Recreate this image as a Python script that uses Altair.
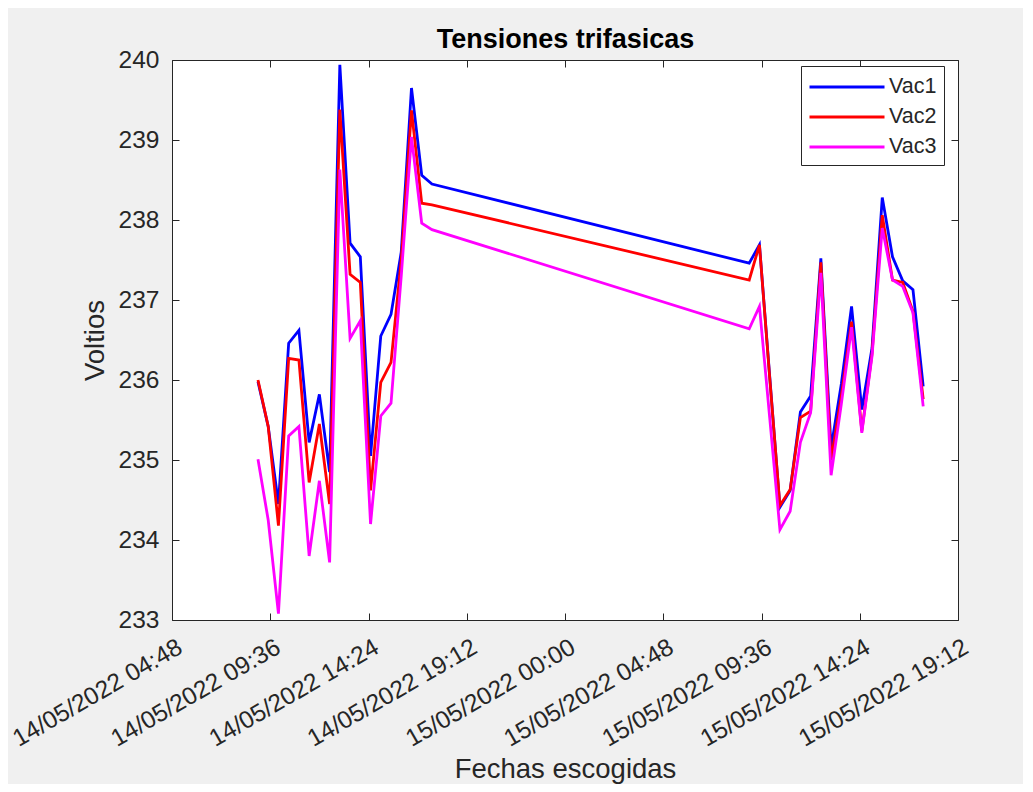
import altair as alt
import pandas as pd

FONT = "Liberation Sans"
TXT = "#262626"

# Timestamps (14/05/2022 and 15/05/2022, every 30 min from 09:00 to 17:30)
times_day1 = [
    "2022-05-14T09:00:00", "2022-05-14T09:30:00", "2022-05-14T10:00:00", "2022-05-14T10:30:00",
    "2022-05-14T11:00:00", "2022-05-14T11:30:00", "2022-05-14T12:00:00", "2022-05-14T12:30:00",
    "2022-05-14T13:00:00", "2022-05-14T13:30:00", "2022-05-14T14:00:00", "2022-05-14T14:30:00",
    "2022-05-14T15:00:00", "2022-05-14T15:30:00", "2022-05-14T16:00:00", "2022-05-14T16:30:00",
    "2022-05-14T17:00:00", "2022-05-14T17:30:00",
]
times_day2 = [
    "2022-05-15T09:00:00", "2022-05-15T09:30:00", "2022-05-15T10:00:00", "2022-05-15T10:30:00",
    "2022-05-15T11:00:00", "2022-05-15T11:30:00", "2022-05-15T12:00:00", "2022-05-15T12:30:00",
    "2022-05-15T13:00:00", "2022-05-15T13:30:00", "2022-05-15T14:00:00", "2022-05-15T14:30:00",
    "2022-05-15T15:00:00", "2022-05-15T15:30:00", "2022-05-15T16:00:00", "2022-05-15T16:30:00",
    "2022-05-15T17:00:00", "2022-05-15T17:30:00",
]

vac1 = [
    235.98, 235.42, 234.45, 236.46, 236.62, 235.22, 235.82, 234.85, 239.94,
    237.71, 237.54, 235.05, 236.55, 236.82, 237.60, 239.65, 238.56, 238.45,
    237.46, 237.69, 236.05, 234.41, 234.62, 235.60, 235.80, 237.52, 235.15,
    235.95, 236.92, 235.63, 236.40, 238.28, 237.54, 237.24, 237.13, 235.92,
]
vac2 = [
    236.00, 235.42, 234.18, 236.27, 236.25, 234.72, 235.45, 234.45, 239.38,
    237.32, 237.22, 234.62, 235.97, 236.22, 237.50, 239.37, 238.21, 238.19,
    237.25, 237.69, 236.03, 234.43, 234.63, 235.53, 235.61, 237.47, 235.00,
    235.80, 236.73, 235.36, 236.33, 238.06, 237.25, 237.22, 236.86, 235.76,
]
vac3 = [
    235.01, 234.25, 233.08, 235.30, 235.42, 233.80, 234.74, 233.72, 238.63,
    236.52, 236.74, 234.20, 235.55, 235.71, 237.30, 239.04, 237.96, 237.88,
    236.64, 236.92, 235.53, 234.13, 234.36, 235.22, 235.59, 237.34, 234.81,
    235.70, 236.66, 235.34, 236.30, 237.90, 237.25, 237.17, 236.84, 235.67,
]

series = ["Vac1", "Vac2", "Vac3"]
colors = ["#0000ff", "#ff0000", "#ff00ff"]
y_ticks = [233, 234, 235, 236, 237, 238, 239, 240]
x_tick_hm = [(14, 4, 48), (14, 9, 36), (14, 14, 24), (14, 19, 12), (15, 0, 0),
             (15, 4, 48), (15, 9, 36), (15, 14, 24), (15, 19, 12)]

times = times_day1 + times_day2
df = pd.DataFrame({
    "t": times * 3,
    "v": vac1 + vac2 + vac3,
    "serie": [series[0]] * len(times) + [series[1]] * len(times) + [series[2]] * len(times),
})

x_vals = [alt.DateTime(year=2022, month=5, date=d, hours=h, minutes=m) for d, h, m in x_tick_hm]
x_scale = alt.Scale(domain=[x_vals[0], x_vals[-1]], nice=False)
y_scale = alt.Scale(domain=[233, 240], nice=False, zero=False)

W, H = 786, 560

x_axis = alt.Axis(
    values=x_vals, format="%d/%m/%Y %H:%M", formatType="time",
    labelAngle=-30, labelAlign="right", labelBaseline="top",
    labelFont=FONT, labelFontSize=24.5, labelColor=TXT, labelLimit=0,
    labelOverlap=False, labelFlush=False, labelBound=False, labelOffset=2,
    tickSize=7, tickColor=TXT, offset=-7, domain=False, grid=False, labelPadding=15,
    title="Fechas escogidas", titleFont=FONT, titleFontSize=27.5, titleFontWeight="normal",
    titleColor=TXT, titleX=W / 2, titleY=164, titleAlign="center", titleBaseline="alphabetic",
)
y_axis = alt.Axis(
    values=y_ticks, format="d",
    labelFont=FONT, labelFontSize=24.5, labelColor=TXT,
    labelOverlap=False, labelFlush=False, labelBound=False,
    tickSize=7, tickColor=TXT, offset=-7, domain=False, grid=False, labelPadding=13,
    title="Voltios", titleFont=FONT, titleFontSize=27.5, titleFontWeight="normal",
    titleColor=TXT, titleX=-76, titleY=H / 2, titleAlign="center", titleBaseline="alphabetic",
    titleAngle=270,
)

lines = alt.Chart(df).mark_line(strokeWidth=2.8).encode(
    x=alt.X("t:T", scale=x_scale, axis=x_axis),
    y=alt.Y("v:Q", scale=y_scale, axis=y_axis),
    color=alt.Color(
        "serie:N",
        scale=alt.Scale(domain=series, range=colors),
        legend=alt.Legend(
            title=None, orient="none", legendX=629, legendY=6,
            symbolType="M-1,0H5", symbolSize=625, symbolStrokeWidth=2.8,
            labelFont=FONT, labelFontSize=21.5, labelColor=TXT, labelOffset=53,
            padding=7, rowPadding=5, fillColor="white", strokeColor=TXT,
        ),
    ),
)

# Box ticks on the top and right sides; the top axis also carries the chart title
frame = alt.Chart(df).mark_point(opacity=0).encode(
    x=alt.X("t:T", scale=x_scale, axis=alt.Axis(
        orient="top", values=x_vals, labels=False, tickSize=7, tickColor=TXT,
        offset=-7, domain=False, grid=False,
        title="Tensiones trifasicas", titleFont=FONT, titleFontSize=27, titleFontWeight="bold",
        titleColor="#000000", titleX=W / 2, titleY=-20, titleAlign="center",
        titleBaseline="alphabetic")),
    y=alt.Y("v:Q", scale=y_scale, axis=alt.Axis(
        orient="right", values=y_ticks, labels=False, tickSize=7, tickColor=TXT,
        offset=-7, domain=False, grid=False, title=None)),
)

chart = alt.layer(lines, frame).resolve_axis(x="independent", y="independent").properties(
    width=W, height=H,
    autosize=alt.AutoSizeParams(type="none"),
    padding={"left": 164, "top": 52, "right": 65, "bottom": 164},
    background="#f0f0f0",
).configure_view(fill="white", stroke=TXT, strokeWidth=1)

chart.save("out.html", embed_options={"renderer": "svg", "actions": False})
